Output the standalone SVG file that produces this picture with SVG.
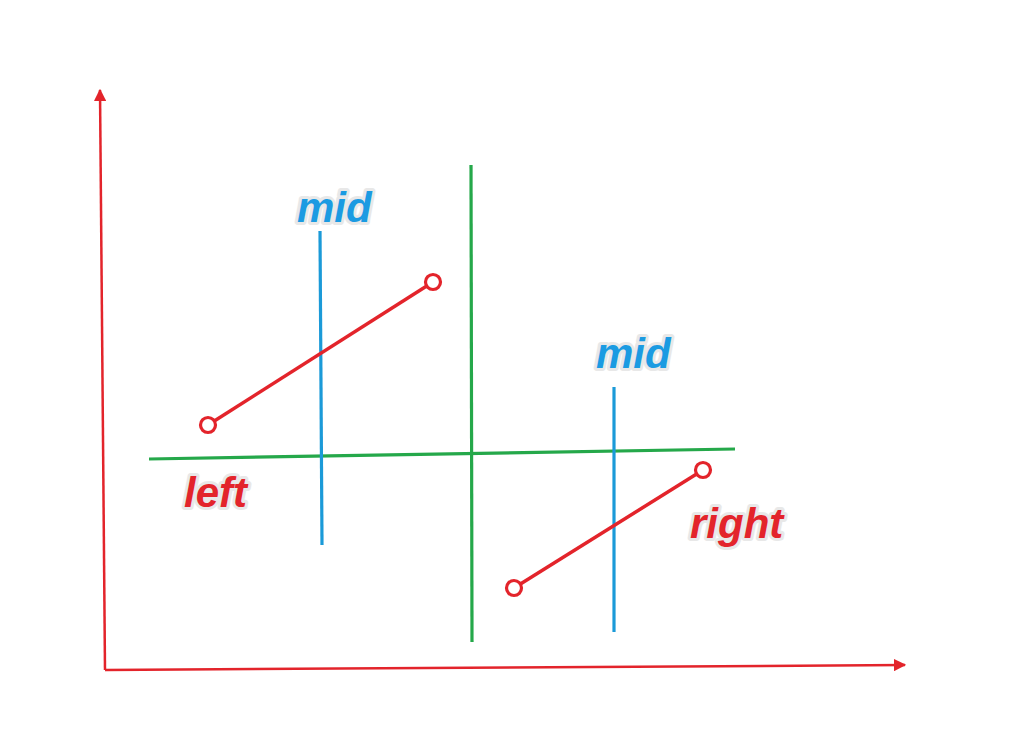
<svg xmlns="http://www.w3.org/2000/svg" width="1032" height="754" viewBox="0 0 1032 754">
<defs>
<marker id="arr" viewBox="0 0 10 10" refX="9" refY="5" markerWidth="5" markerHeight="5" orient="auto" markerUnits="strokeWidth">
<path d="M0,0 L10,5 L0,10 z" fill="#e3242b"/>
</marker>
<style>
.axis{stroke:#e3242b;stroke-width:2.5;fill:none}
.green{stroke:#25a84a;stroke-width:3.2;fill:none}
.blue{stroke:#1b9ad8;stroke-width:3.2;fill:none}
.red{stroke:#e3242b;stroke-width:3.5;fill:none}
.end{stroke:#e3242b;stroke-width:3.2;fill:#fff}
.lbl{font-family:"Liberation Sans",Arial,sans-serif;font-weight:bold;font-style:italic;font-size:42px;stroke:#e8e8e8;stroke-width:6;stroke-linejoin:round;paint-order:stroke}
.lb{fill:#1b9be2}
.lr{fill:#e3242b}
</style>
</defs>
<rect width="1032" height="754" fill="#fff"/>
<g id="connectors">
<line class="axis" x1="105" y1="670" x2="100" y2="90" marker-end="url(#arr)"/>
<line class="axis" x1="105" y1="670" x2="905" y2="665" marker-end="url(#arr)"/>
<line class="green" x1="471" y1="165" x2="472" y2="642"/>
<line class="green" x1="149" y1="459" x2="735" y2="449"/>
<line class="blue" x1="320" y1="231" x2="322" y2="545"/>
<line class="blue" x1="614" y1="387" x2="614" y2="632"/>
<line class="red" x1="208" y1="425" x2="433" y2="282"/>
<line class="red" x1="514" y1="588" x2="703" y2="470"/>
</g>
<g id="ends">
<circle class="end" cx="208" cy="425" r="7.5"/>
<circle class="end" cx="433" cy="282" r="7.5"/>
<circle class="end" cx="514" cy="588" r="7.5"/>
<circle class="end" cx="703" cy="470" r="7.5"/>
</g>
<g id="label-mid-1"><text class="lbl lb" x="297" y="222">mid</text></g>
<g id="label-mid-2"><text class="lbl lb" x="596" y="368">mid</text></g>
<g id="label-left"><text class="lbl lr" x="184" y="507">left</text></g>
<g id="label-right"><text class="lbl lr" x="690" y="538">right</text></g>
</svg>
